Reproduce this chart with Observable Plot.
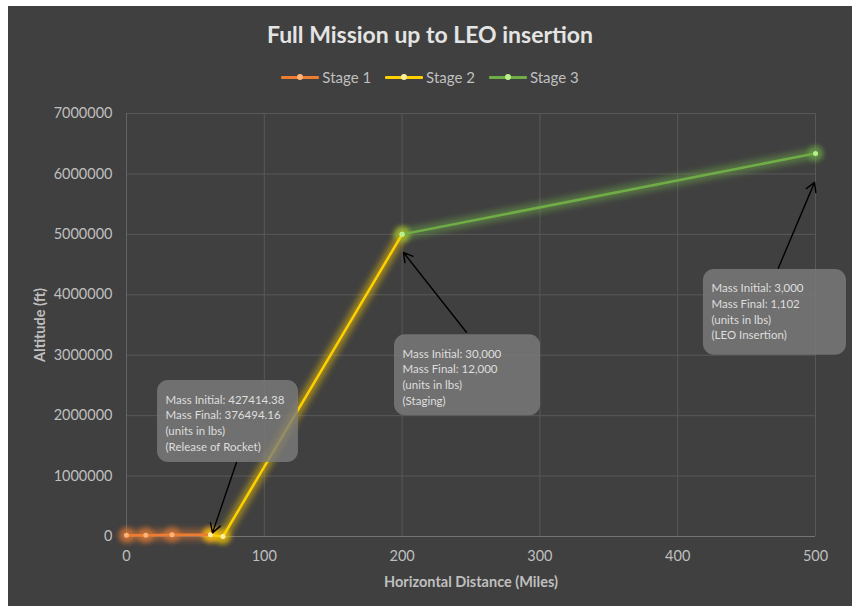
<!DOCTYPE html>
<html>
<head>
<meta charset="utf-8">
<script src="https://cdn.jsdelivr.net/npm/d3@7"></script>
<script src="https://cdn.jsdelivr.net/npm/@observablehq/plot@0.6"></script>
<style>
  html, body { margin: 0; padding: 0; background: #ffffff; }
  #wrap { position: absolute; left: 8px; top: 6px; width: 844px; height: 600px; background: #404040; font-family: Lato, "Open Sans", sans-serif; overflow: hidden; }
  #title { position: absolute; left: 0; width: 100%; top: 14px; text-align: center; font-size: 23px; font-weight: bold; color: #e4e4e4; }
  #legend { position: absolute; left: 0; width: 100%; top: 62px; display: flex; justify-content: center; gap: 14px; font-size: 15px; color: #bfbfbf; }
  .item { display: flex; align-items: center; }
  .sw { position: relative; width: 38px; height: 14px; margin-right: 3px; }
  .sw .ln { position: absolute; left: 0; right: 0; top: 6px; height: 3px; border-radius: 1px; }
  .sw .pt { position: absolute; left: 16px; top: 4px; width: 6px; height: 6px; border-radius: 50%; }
  #chart { position: absolute; left: 0; top: 89px; }
</style>
</head>
<body>
<div id="wrap">
  <div id="title">Full Mission up to LEO insertion</div>
  <div id="legend"></div>
  <div id="chart"></div>
</div>
<script>
// Series data (Horizontal Distance in miles, Altitude in ft)
const stage1X = [0, 14, 33, 61];
const stage1Y = [20000, 20000, 30000, 30000];
const stage2X = [61, 70, 200];
const stage2Y = [30000, 0, 5000000];
const stage3X = [200, 500];
const stage3Y = [5000000, 6340000];

const seriesNames = ["Stage 1", "Stage 2", "Stage 3"];
const seriesColors = ["#ED7D31", "#FFD000", "#70AD47"];
const pointColors = ["#FFB27A", "#FFF0A0", "#B8F08A"];

const xTicks = [0, 100, 200, 300, 400, 500];
const yTicks = [0, 1000000, 2000000, 3000000, 4000000, 5000000, 6000000, 7000000];

// Annotation callouts (data coordinates)
const noteText = [
  "Mass Initial: 427414.38\nMass Final: 376494.16\n(units in lbs)\n(Release of Rocket)",
  "Mass Initial: 30,000\nMass Final: 12,000\n(units in lbs)\n(Staging)",
  "Mass Initial: 3,000\nMass Final: 1,102\n(units in lbs)\n(LEO Insertion)"
];
const boxX1 = [22.5, 194.5, 418.7];
const boxX2 = [124.8, 300.5, 522.5];
const boxYTop = [2580000, 3340000, 4420000];
const boxYBot = [1225000, 2000000, 3000000];
const arrowX1 = [79.8, 246.7, 473];
const arrowY1 = [1225000, 3380000, 4440000];
const arrowX2 = [62.4, 201, 499.3];
const arrowY2 = [60000, 4700000, 5860000];

const xs = [stage1X, stage2X, stage3X];
const ys = [stage1Y, stage2Y, stage3Y];
const rows = [];
seriesNames.forEach((s, i) => xs[i].forEach((x, j) => rows.push({series: s, idx: i, x, y: ys[i][j]})));
const notes = noteText.map((t, i) => ({t, x1: boxX1[i], x2: boxX2[i], yt: boxYTop[i], yb: boxYBot[i],
  ax1: arrowX1[i], ay1: arrowY1[i], ax2: arrowX2[i], ay2: arrowY2[i]}));

// legend
const leg = document.getElementById("legend");
seriesNames.forEach((s, i) => {
  const it = document.createElement("div");
  it.className = "item";
  it.innerHTML = `<div class="sw"><div class="ln" style="background:${seriesColors[i]}"></div><div class="pt" style="background:${pointColors[i]}"></div></div><span>${s}</span>`;
  leg.appendChild(it);
});

const colorScale = {domain: seriesNames, range: seriesColors};

const plot = Plot.plot({
  width: 844,
  height: 511,
  marginLeft: 118,
  marginRight: 37,
  marginTop: 18,
  marginBottom: 70,
  style: {background: "transparent", color: "#bfbfbf", fontFamily: "Lato, 'Open Sans', sans-serif", fontSize: "14.5px"},
  x: {domain: [0, 500], ticks: xTicks, tickSize: 0, tickPadding: 14, label: "Horizontal Distance (Miles)", labelArrow: false, labelAnchor: "center", labelOffset: 50},
  y: {domain: [0, 7000000], ticks: yTicks, tickSize: 0, tickPadding: 14, tickFormat: d => String(d), label: "Altitude (ft)", labelArrow: false, labelAnchor: "center", labelOffset: 92},
  color: colorScale,
  marks: [
    Plot.gridX(xTicks, {stroke: "#585858", strokeOpacity: 1, strokeWidth: 1}),
    Plot.gridY(yTicks, {stroke: "#585858", strokeOpacity: 1, strokeWidth: 1}),
    Plot.ruleY([0], {stroke: "#747474"}),
    Plot.ruleX([0], {stroke: "#646464"}),
    // glow
    Plot.line(rows, {x: "x", y: "y", z: "series", stroke: "series", strokeWidth: 10, strokeOpacity: 0.5}),
    Plot.dot(rows, {x: "x", y: "y", fill: "series", r: 8, fillOpacity: 0.55}),
    // lines
    Plot.line(rows, {x: "x", y: "y", z: "series", stroke: "series", strokeWidth: 2.5}),
    Plot.dot(rows, {x: "x", y: "y", fill: d => pointColors[d.idx], r: 2.5}),
    // callouts
    Plot.rect(notes, {x1: "x1", x2: "x2", y1: "yb", y2: "yt", rx: 11, fill: "#7c7c7c", fillOpacity: 0.8, clip: false}),
    Plot.text(notes, {x: "x1", y: "yt", text: "t", dx: 8, dy: 12, textAnchor: "start", lineAnchor: "top", lineHeight: 1.36, fill: "#dedede", fontSize: 11.5, clip: false}),
    Plot.arrow(notes, {x1: "ax1", y1: "ay1", x2: "ax2", y2: "ay2", stroke: "#000000", strokeWidth: 1.4, headLength: 11, bend: false})
  ]
});
document.getElementById("chart").appendChild(plot);

const svg = d3.select(plot);
// soften glow layers
svg.selectAll('g[aria-label="line"]').filter((d, i) => i === 0).style("filter", "blur(3px)");
svg.selectAll('g[aria-label="dot"]').filter((d, i) => i === 0).style("filter", "blur(2.5px)");
// axis labels: bold, no arrows
svg.selectAll('g[aria-label="x-axis label"] text, g[aria-label="y-axis label"] text')
  .style("font-weight", "bold")
  .text(function() { return this.textContent.replace(/\s*[→↑←↓]\s*/g, "").trim(); });
</script>
</body>
</html>
